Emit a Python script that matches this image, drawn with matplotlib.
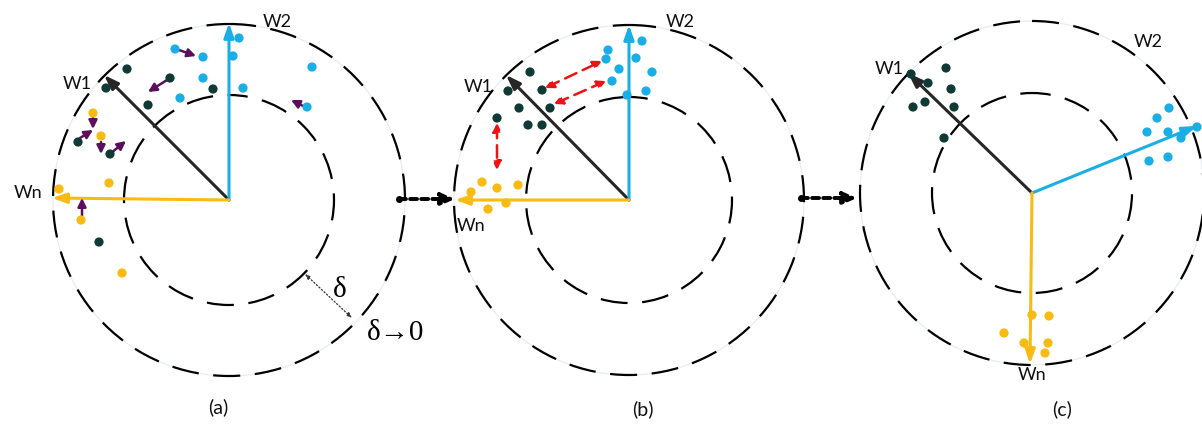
import matplotlib
matplotlib.use("Agg")
import matplotlib.pyplot as plt
from matplotlib.patches import Circle

plt.rcParams["lines.scale_dashes"] = False

# ---------------- data (diagram coordinates, pixel space) ----------------
centers = [(229, 200), (629, 200), (1032, 193)]
r_outer = [176, 175, 172]
r_inner = [105, 103, 100]
panel_labels = ["(a)", "(b)", "(c)"]
panel_label_pos = [(218, 407), (643, 409), (1062, 409)]

# prototype vectors (end points) per panel: W1, W2, Wn
w1_end = [(104, 75), (506, 75), (908, 73)]
w2_end = [(229, 23), (629, 25), (1197, 126)]
wn_end = [(52, 198), (455, 200), (1030, 364)]
w_names = ["W1", "W2", "Wn"]
w1_lbl = [(77, 84), (478, 87), (889, 69)]
w2_lbl = [(277, 22), (680, 22), (1148, 42)]
wn_lbl = [(28, 193), (471, 226), (1032, 375)]

# sample points per panel
dark_a = [(127, 69), (170, 78), (106, 88), (213, 89), (148, 105), (78, 142), (110, 154), (99, 242)]
blue_a = [(239, 38), (175, 49), (203, 57), (233, 56), (312, 67), (203, 78), (243, 88), (180, 98), (307, 107)]
yell_a = [(93, 113), (101, 136), (109, 183), (59, 189), (81, 220), (122, 273)]

dark_b = [(530, 72), (508, 91), (542, 90), (519, 108), (550, 108), (497, 118), (528, 125), (542, 125)]
blue_b = [(642, 41), (608, 50), (606, 59), (636, 58), (619, 69), (652, 72), (612, 81), (627, 95), (646, 91)]
yell_b = [(482, 182), (497, 188), (518, 185), (471, 192), (506, 203), (488, 209)]

dark_c = [(911, 74), (946, 68), (928, 83), (951, 89), (925, 102), (913, 107), (954, 107), (944, 138)]
blue_c = [(1169, 108), (1157, 118), (1197, 127), (1147, 132), (1168, 132), (1181, 138), (1149, 161), (1168, 157)]
yell_c = [(1032, 315), (1049, 316), (1004, 333), (1024, 343), (1048, 343), (1045, 353)]

# movement arrows in (a): (start, end)
moves_a = [((179, 50), (196, 56)), ((167, 80), (148, 92)), ((93, 118), (93, 129)),
           ((80, 138), (93, 130)), ((101, 142), (101, 154)), ((111, 153), (126, 141)),
           ((82, 216), (82, 198)), ((303, 106), (291, 100))]
# pulling arrows in (b) (double-headed, dashed)
pulls_b = [((545, 88), (602, 61)), ((554, 104), (606, 81)), ((497, 123), (497, 170))]
# transition arrows between panels
transitions = [((399, 199), (455, 199)), ((801, 198), (857, 198))]
# delta annotation
delta_start, delta_end = (305, 274), (352, 318)

# ---------------- style ----------------
C_DARK = "#0f3a36"
C_BLUE = "#1aaee6"
C_YEL = "#f9bb12"
C_BLACK = "#262626"
C_PURP = "#5a0f5c"
C_RED = "#f01212"
LBL_FONT = ["Lato", "DejaVu Sans"]

fig = plt.figure(figsize=(12.02, 4.28), dpi=100)
ax = fig.add_axes([0, 0, 1, 1])
ax.set_xlim(0, 1202)
ax.set_ylim(428, 0)
ax.axis("off")

dash = (0, (19.5, 10.5))
for (cx, cy), ro, ri in zip(centers, r_outer, r_inner):
    ax.add_patch(Circle((cx, cy), ro, fill=False, ec="#e4ebf3", lw=0.8, zorder=1))
    ax.add_patch(Circle((cx, cy), ro, fill=False, ec="black", lw=1.6, ls=dash, zorder=2))
    ax.add_patch(Circle((cx, cy), ri, fill=False, ec="black", lw=1.6, ls=(6, (19.5, 10.5)), zorder=2))


def arrow(p0, p1, color, lw, hl=0.9, hw=0.35, ls="-", style="-|>", z=4):
    ax.annotate("", xy=p1, xytext=p0,
                arrowprops=dict(arrowstyle=f"{style},head_length={hl},head_width={hw}",
                                color=color, lw=lw, ls=ls, shrinkA=0, shrinkB=0),
                zorder=z)


for i, c in enumerate(centers):
    arrow(c, w1_end[i], C_BLACK, 2.2, 0.85, 0.3)
    arrow(c, w2_end[i], C_BLUE, 2.2, 0.85, 0.3)
    arrow(c, wn_end[i], C_YEL, 2.2, 0.85, 0.3)
    for lbl, pos in zip(w_names, (w1_lbl[i], w2_lbl[i], wn_lbl[i])):
        ax.text(pos[0], pos[1], lbl, fontsize=13, family=LBL_FONT,
                ha="center", va="center", color="#111111", zorder=6)
    ax.text(panel_label_pos[i][0], panel_label_pos[i][1], panel_labels[i], fontsize=14,
            family=LBL_FONT, ha="center", va="center", color="#111111")

for pts, col in [(dark_a, C_DARK), (blue_a, C_BLUE), (yell_a, C_YEL),
                 (dark_b, C_DARK), (blue_b, C_BLUE), (yell_b, C_YEL),
                 (dark_c, C_DARK), (blue_c, C_BLUE), (yell_c, C_YEL)]:
    xs = [p[0] for p in pts]
    ys = [p[1] for p in pts]
    ax.scatter(xs, ys, s=44, color=col, edgecolors="none", zorder=5)

for p0, p1 in moves_a:
    arrow(p0, p1, C_PURP, 1.8, 0.5, 0.25)

for p0, p1 in pulls_b:
    arrow(p0, p1, C_RED, 1.8, 0.5, 0.25, ls=(0, (9, 5)), style="<|-|>")

for p0, p1 in transitions:
    ax.plot([p0[0]], [p0[1]], "o", color="black", ms=4, zorder=4)
    arrow(p0, p1, "black", 2.8, 0.8, 0.35, ls=(0, (5, 3)))

arrow(delta_start, delta_end, "#333333", 0.9, 0.3, 0.12, ls=(0, (1, 1.5)), style="<|-|>")
ax.text(340, 290, "δ", fontsize=21, family=["Liberation Serif", "DejaVu Serif"],
        ha="center", va="center", color="black")
ax.text(396, 333, "δ→0", fontsize=21, family=["Liberation Serif", "DejaVu Serif"],
        ha="center", va="center", color="black")

fig.savefig("out.png", dpi=100, facecolor="white")
